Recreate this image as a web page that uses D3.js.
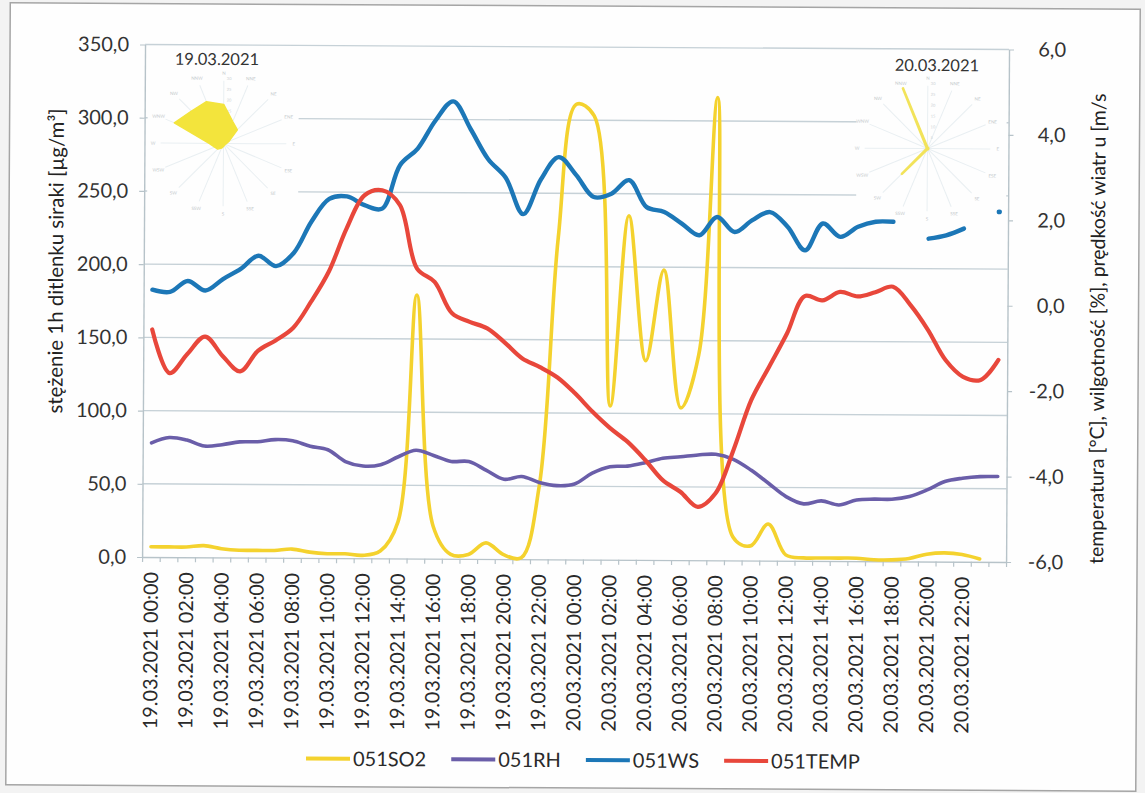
<!DOCTYPE html>
<html>
<head>
<meta charset="utf-8">
<script src="https://cdn.jsdelivr.net/npm/d3@7"></script>
<style>
  body { margin: 0; background: #f3f3f3; }
  svg { display: block; font-family: Lato, "Noto Sans", sans-serif; }
</style>
</head>
<body>
<svg width="1145" height="793"></svg>
<script>
// categories: hourly, two days + one empty slot at the end
const days = ["19.03.2021", "20.03.2021"];
const categories = [];
days.forEach(day => {
  for (let h = 0; h < 24; h++) categories.push(day + " " + String(h).padStart(2, "0") + ":00");
});
categories.push("");

// left axis series
const so2 = [7, 7, 7, 8, 6, 5, 5, 5, 6, 4, 3, 3, 2, 5, 25, 180, 22, 3, 3, 11, 3, 1, 50, 220,
  311, 303, 105, 235, 136, 198, 104, 140, 316, 16, 10, 25, 4, 2, 2, 2, 2, 1, 1, 2, 5, 6, 5, 2, null];
const rh = [78, 81.7, 80, 76, 77, 79, 79.2, 80.7, 80, 76.3, 74, 66, 63, 64, 69.5, 74, 70.5, 66.5, 66.5, 60.5, 54.5, 56.5, 52.5, 50.4,
  51.6, 59, 63.5, 64, 66.4, 69.5, 70.6, 71.9, 72.4, 69, 61.8, 52.8, 43.8, 38.9, 41, 38.3, 41.8, 42.4, 42.4, 44.3, 48.9, 54.7, 57, 58.2, 58.3];
// right axis series
const ws = [0.26, 0.21, 0.47, 0.25, 0.52, 0.76, 1.07, 0.83, 1.14, 1.88, 2.41, 2.47, 2.27, 2.19, 3.21, 3.6, 4.26, 4.71, 4.06, 3.36, 2.93, 2.08, 2.9, 3.42,
  3.0, 2.49, 2.57, 2.89, 2.26, 2.15, 1.88, 1.61, 2.04, 1.69, 1.97, 2.16, 1.82, 1.27, 1.9, 1.59, 1.83, 1.95, 1.95, null, 1.56, 1.64, 1.8, null, 2.2];
const temp = [-0.67, -1.69, -1.24, -0.83, -1.28, -1.64, -1.16, -0.91, -0.61, 0.0, 0.71, 1.73, 2.5, 2.62, 2.28, 0.79, 0.48, -0.25, -0.45, -0.6, -0.93, -1.3, -1.5, -1.74,
  -2.11, -2.54, -2.92, -3.24, -3.66, -4.13, -4.4, -4.75, -4.43, -3.42, -2.24, -1.46, -0.68, 0.2, 0.1, 0.3, 0.2, 0.3, 0.43, 0.0, -0.58, -1.28, -1.67, -1.74, -1.27];

const leftTicks = [0, 50, 100, 150, 200, 250, 300, 350];
const rightTicks = [-6, -4, -2, 0, 2, 4, 6];

const seriesNames = ["051SO2", "051RH", "051WS", "051TEMP"];
const seriesColors = ["#f4d22e", "#6a5ea9", "#1c77b7", "#e8473b"];

// wind roses (16 directions)
const directions = ["N", "NNE", "NE", "ENE", "E", "ESE", "SE", "SSE", "S", "SSW", "SW", "WSW", "W", "WNW", "NW", "NNW"];
const roseTicks = [0, 5, 10, 15, 20, 25, 30];
const rose1Title = "19.03.2021";
const rose1 = [18, 11, 9, 2.8, 1.4, 0.9, 0.9, 0.9, 1.4, 2.3, 3.7, 4.4, 6.6, 24.6, 21, 20.8];
const rose2Title = "20.03.2021";
const rose2 = [0.4, 0.4, 0.4, 0.4, 0.4, 0.4, 0.4, 0.4, 0.4, 0.4, 16.6, 0.4, 0.4, 0.4, 0.4, 30];

const svg = d3.select("svg");
const width = +svg.attr("width");
const height = +svg.attr("height");

const fmt = d => d.toFixed(1).replace(".", ",");

// the scan is slightly tilted
const chart = svg.append("g").attr("transform", "rotate(0.33,575,400)");

chart.append("rect")
  .attr("x", 8).attr("y", 6).attr("width", 1130).attr("height", 782)
  .attr("fill", "#fefefe").attr("stroke", "#a5a5a5").attr("stroke-width", 1.5);

const plotLeft = 143, plotRight = 1007, plotTop = 47, plotBottom = 559.5;

const x = d3.scaleBand().domain(d3.range(categories.length)).range([plotLeft, plotRight]);
const cx = i => x(i) + x.bandwidth() / 2;
const xb = d3.scaleLinear().domain([0, categories.length]).range([plotLeft, plotRight]);
const yL = d3.scaleLinear().domain([0, 350]).range([plotBottom, plotTop]);
const yR = d3.scaleLinear().domain([-6, 6]).range([plotBottom, plotTop]);

// gridlines
chart.append("g").selectAll("line")
  .data(leftTicks.slice(1))
  .enter().append("line")
  .attr("x1", plotLeft).attr("x2", plotRight)
  .attr("y1", d => yL(d)).attr("y2", d => yL(d))
  .attr("stroke", "#c6d1d7").attr("stroke-width", 1.4);

// left axis
const gL = chart.append("g")
  .attr("transform", "translate(" + plotLeft + ",0)")
  .call(d3.axisLeft(yL).tickValues(leftTicks).tickFormat(fmt).tickSize(5).tickSizeOuter(0).tickPadding(11));
// right axis
const gR = chart.append("g")
  .attr("transform", "translate(" + plotRight + ",0)")
  .call(d3.axisRight(yR).tickValues(rightTicks).tickFormat(fmt).tickSize(5).tickSizeOuter(0));
gR.selectAll("text").attr("text-anchor", "end").attr("x", 57);
// bottom axis ticks at category borders
const gB = chart.append("g")
  .attr("transform", "translate(0," + plotBottom + ")")
  .call(d3.axisBottom(xb).tickValues(d3.range(categories.length + 1)).tickFormat("").tickSize(5).tickSizeOuter(0));

[gL, gR, gB].forEach(g => {
  g.select(".domain").attr("stroke", "#b7c3c9").attr("stroke-width", 1.4);
  g.selectAll(".tick line").attr("stroke", "#b7c3c9").attr("stroke-width", 1.2);
  g.selectAll("text").attr("font-size", 20).attr("fill", "#333").attr("font-family", "Lato");
});

// category labels (every second)
chart.append("g").selectAll("text")
  .data(categories.map((c, i) => ({ c, i })).filter(d => d.i % 2 === 0 && d.c !== ""))
  .enter().append("text")
  .attr("transform", d => "translate(" + cx(d.i) + "," + (plotBottom + 15) + ") rotate(-90)")
  .attr("text-anchor", "end")
  .attr("dy", "0.36em")
  .attr("font-size", 19.8)
  .attr("fill", "#2a2a2a")
  .text(d => d.c);

// axis titles
chart.append("text")
  .attr("transform", "translate(55,264) rotate(-90)")
  .attr("text-anchor", "middle").attr("dy", "0.36em")
  .attr("font-size", 20.4).attr("fill", "#222")
  .text("stężenie 1h  ditlenku siraki [µg/m³]");
chart.append("text")
  .attr("transform", "translate(1097,561) rotate(-90)")
  .attr("text-anchor", "start").attr("dy", "0.36em")
  .attr("font-size", 19.5).attr("fill", "#222")
  .text("temperatura [°C], wilgotność [%], prędkość  wiatr u [m/s");

// lines
const curve = d3.curveCatmullRom.alpha(0.5);
const series = [
  { values: so2, y: yL, w: 3.6 },
  { values: rh, y: yL, w: 3.6 },
  { values: ws, y: yR, w: 4.4 },
  { values: temp, y: yR, w: 4.2 }
];
series.forEach((s, k) => {
  const line = d3.line()
    .defined(d => d != null)
    .x((d, i) => cx(i))
    .y(d => s.y(d))
    .curve(curve);
  chart.append("path")
    .attr("fill", "none")
    .attr("stroke", seriesColors[k])
    .attr("stroke-width", s.w)
    .attr("stroke-linejoin", "round")
    .attr("stroke-linecap", "round")
    .attr("d", line(s.values));
  // isolated points
  s.values.forEach((d, i) => {
    if (d != null && s.values[i - 1] == null && s.values[i + 1] == null) {
      chart.append("circle")
        .attr("cx", cx(i)).attr("cy", s.y(d)).attr("r", s.w / 2 + 0.4)
        .attr("fill", seriesColors[k]);
    }
  });
});

// wind rose insets
function drawRose(rx, ry, box, values, title, opts) {
  const g = chart.append("g");
  g.append("rect")
    .attr("x", box[0]).attr("y", box[1]).attr("width", box[2]).attr("height", box[3])
    .attr("fill", "#fefefe");
  const r = d3.scaleLinear().domain([0, 30]).range([0, 65]);
  const ang = i => i * 2 * Math.PI / directions.length;
  const rg = g.append("g").attr("transform", "translate(" + rx + "," + ry + ")");
  rg.selectAll("line.ray")
    .data(directions)
    .enter().append("line")
    .attr("class", "ray")
    .attr("x1", 0).attr("y1", 0)
    .attr("x2", (d, i) => Math.sin(ang(i)) * r(29))
    .attr("y2", (d, i) => -Math.cos(ang(i)) * r(29))
    .attr("stroke", "#e9eff2").attr("stroke-width", 1);
  rg.selectAll("text.dir")
    .data(directions)
    .enter().append("text")
    .attr("class", "dir")
    .attr("x", (d, i) => Math.sin(ang(i)) * r(32.5))
    .attr("y", (d, i) => -Math.cos(ang(i)) * r(32.5))
    .attr("text-anchor", "middle").attr("dy", "0.35em")
    .attr("font-size", 4.5).attr("fill", "#c2c8cb")
    .text(d => d);
  rg.selectAll("text.rt")
    .data(roseTicks.slice(1))
    .enter().append("text")
    .attr("class", "rt")
    .attr("x", 3).attr("y", d => -r(d))
    .attr("dy", "0.35em")
    .attr("font-size", 4).attr("fill", "#c9cfd2")
    .text(d => d);
  const radial = d3.lineRadial()
    .angle((d, i) => ang(i))
    .radius(d => r(d))
    .curve(d3.curveLinearClosed);
  rg.append("path")
    .attr("d", radial(values))
    .attr("fill", opts.fill)
    .attr("stroke", opts.stroke)
    .attr("stroke-width", opts.sw)
    .attr("stroke-linejoin", "round");
  g.append("text")
    .attr("x", opts.tx).attr("y", opts.ty)
    .attr("text-anchor", "middle")
    .attr("font-size", 16.5).attr("fill", "#333")
    .text(title);
}

drawRose(222, 145.5, [146, 49, 151, 178], rose1, rose1Title,
  { fill: "#f3e43c", stroke: "#f3e43c", sw: 1.5, tx: 215, ty: 67 });
drawRose(926, 146.5, [855, 49, 150, 158], rose2, rose2Title,
  { fill: "#f2e35a", stroke: "#f2e35a", sw: 2.6, tx: 935, ty: 69 });

// legend
const legend = chart.append("g").attr("transform", "translate(0,760)");
const items = [];
seriesNames.forEach((name, k) => {
  const it = legend.append("g");
  it.append("line")
    .attr("x1", 0).attr("x2", 44).attr("y1", 0).attr("y2", 0)
    .attr("stroke", seriesColors[k]).attr("stroke-width", 4);
  const t = it.append("text")
    .attr("x", 47).attr("dy", "0.36em")
    .attr("font-size", 20).attr("fill", "#2a2a2a")
    .text(name);
  const w = 47 + t.node().getComputedTextLength();
  items.push({ it, w });
});
const gap = 25;
const total = d3.sum(items, d => d.w) + gap * (items.length - 1);
let lx = 585 - total / 2;
items.forEach(d => {
  d.it.attr("transform", "translate(" + lx + ",0)");
  lx += d.w + gap;
});
</script>
</body>
</html>
